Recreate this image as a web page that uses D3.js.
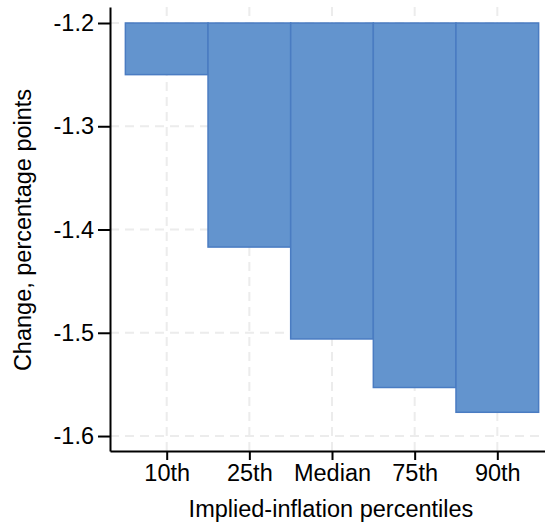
<!DOCTYPE html>
<html>
<head>
<meta charset="utf-8">
<script src="https://cdn.jsdelivr.net/npm/d3@7"></script>
<style>
  body { margin: 0; background: #fff; }
  text { font-family: "Liberation Sans", Arial, sans-serif; }
</style>
</head>
<body>
<div id="chart"></div>
<script>
"use strict";

const categories = ["10th", "25th", "Median", "75th", "90th"];
const values = [-1.250, -1.417, -1.506, -1.553, -1.577];
const yTicks = [-1.2, -1.3, -1.4, -1.5, -1.6];
const baseValue = -1.2;

const cont = {
    width: 545,
    height: 523,
    left: 110,
    right: 545,
    top: 7,
    bottom: 451,
}

let svg = d3.select("#chart")
    .append("svg")
    .attr("width", cont.width)
    .attr("height", cont.height);

let xScale = d3.scaleLinear()
    .domain([-0.686, 4.577])
    .range([cont.left, cont.right]);

let yScale = d3.scaleLinear()
    .domain([-1.6145, -1.1845])
    .range([cont.bottom, cont.top]);

// grid
let grid = svg.append("g");
grid.selectAll(".hgrid")
    .data(yTicks)
    .enter()
    .append("line")
    .attr("x1", cont.left)
    .attr("x2", cont.right)
    .attr("y1", (d) => yScale(d))
    .attr("y2", (d) => yScale(d))
    .attr("stroke", "#ececec")
    .attr("stroke-width", 2)
    .attr("stroke-dasharray", "9,6");

grid.selectAll(".vgrid")
    .data(categories)
    .enter()
    .append("line")
    .attr("x1", (d, i) => xScale(i))
    .attr("x2", (d, i) => xScale(i))
    .attr("y1", cont.top)
    .attr("y2", cont.bottom)
    .attr("stroke", "#ececec")
    .attr("stroke-width", 2)
    .attr("stroke-dasharray", "9,6");

// bars hang from -1.2
svg.selectAll(".bar")
    .data(values)
    .enter()
    .append("rect")
    .attr("x", (d, i) => xScale(i - 0.5))
    .attr("width", (d, i) => xScale(i + 0.5) - xScale(i - 0.5))
    .attr("y", yScale(baseValue))
    .attr("height", (d) => yScale(d) - yScale(baseValue))
    .attr("fill", "#6394ce")
    .attr("stroke", "#4a7cc2")
    .attr("stroke-width", 1.5);

// y axis
let yAxis = d3.axisLeft(yScale)
    .tickValues(yTicks)
    .tickFormat(d3.format(".1f"))
    .tickSize(12)
    .tickPadding(4)
    .tickSizeOuter(0);
let yg = svg.append("g")
    .attr("transform", "translate(" + cont.left + ",0)")
    .call(yAxis);

// x axis
let xAxis = d3.axisBottom(xScale)
    .tickValues(d3.range(categories.length))
    .tickFormat((d) => categories[d])
    .tickSize(9)
    .tickPadding(4)
    .tickSizeOuter(0);
let xg = svg.append("g")
    .attr("transform", "translate(0," + cont.bottom + ")")
    .call(xAxis);

[yg, xg].forEach((g) => {
    g.select(".domain").attr("stroke", "#000").attr("stroke-width", 2);
    g.selectAll(".tick line").attr("stroke", "#000").attr("stroke-width", 2);
    g.selectAll(".tick text")
        .attr("fill", "#000")
        .style("font-size", "23.5px")
        .style("font-family", "'Liberation Sans', Arial, sans-serif");
});
yg.selectAll(".tick text").text((d) => d3.format(".1f")(d).replace("−", "-"));

// labels
svg.append("text")
    .attr("x", 331)
    .attr("y", 517)
    .attr("text-anchor", "middle")
    .style("font-size", "23.5px")
    .text("Implied-inflation percentiles");

svg.append("text")
    .attr("transform", "translate(31,230) rotate(-90)")
    .attr("text-anchor", "middle")
    .style("font-size", "23.5px")
    .text("Change, percentage points");
</script>
</body>
</html>
